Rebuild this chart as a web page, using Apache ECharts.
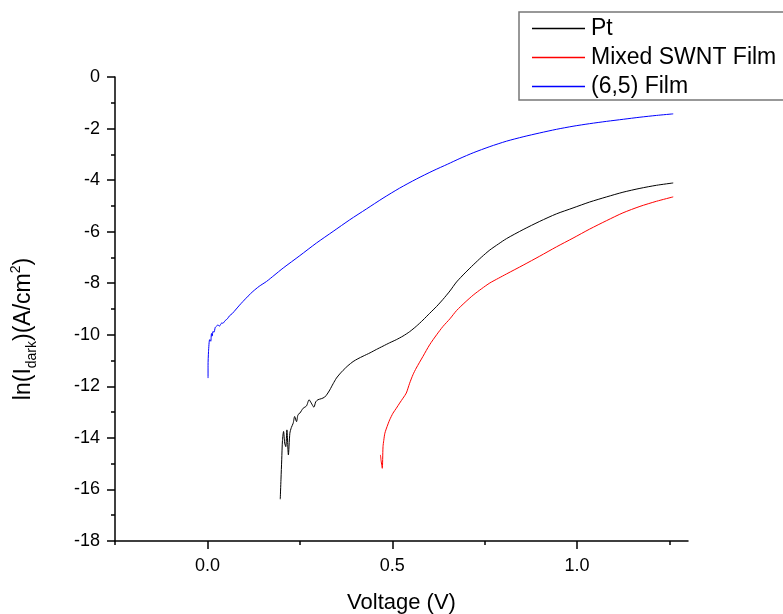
<!DOCTYPE html>
<html>
<head>
<meta charset="utf-8">
<script src="https://cdn.jsdelivr.net/npm/echarts@6/dist/echarts.min.js"></script>
<style>html,body{margin:0;padding:0;background:#fff}#c{width:783px;height:614px}</style>
</head>
<body>
<div id="c"></div>
<script>
var seriesNames = ['Pt', 'Mixed SWNT Film', '(6,5) Film'];
var xMajorLabels = [0, 0.5, 1.0];
var xMinorTicks = [-0.25, 0.25, 0.75, 1.25];

var ptV = [0.197,0.199,0.201,0.203,0.206,0.209,0.212,0.215,0.219,0.223,0.227,0.232,0.236,0.241,0.245,0.250,0.259,0.268,0.275,0.281,0.288,0.293,0.299,0.308,0.317,0.324,0.331,0.340,0.349,0.358,0.367,0.380,0.394,0.407,0.421,0.440,0.457,0.475,0.493,0.511,0.529,0.547,0.565,0.583,0.601,0.620,0.637,0.656,0.674,0.697,0.719,0.742,0.764,0.787,0.809,0.854,0.899,0.944,0.989,1.034,1.080,1.124,1.170,1.215,1.260];
var ptI = [-16.38,-15.6,-14.85,-14.1,-13.75,-14.2,-14.34,-13.69,-14.66,-13.82,-13.6,-13.43,-13.17,-13.37,-13.1,-13.04,-12.85,-12.76,-12.52,-12.65,-12.81,-12.6,-12.52,-12.48,-12.42,-12.3,-12.14,-11.9,-11.68,-11.52,-11.38,-11.2,-11.04,-10.93,-10.83,-10.70,-10.57,-10.44,-10.31,-10.19,-10.05,-9.88,-9.67,-9.43,-9.17,-8.9,-8.63,-8.30,-7.95,-7.6,-7.29,-6.98,-6.71,-6.48,-6.27,-5.92,-5.60,-5.31,-5.08,-4.85,-4.65,-4.47,-4.32,-4.20,-4.11];

var mixV = [0.468,0.470,0.473,0.475,0.477,0.480,0.486,0.493,0.502,0.511,0.520,0.529,0.538,0.547,0.556,0.565,0.583,0.601,0.620,0.637,0.656,0.674,0.697,0.719,0.742,0.764,0.787,0.809,0.854,0.899,0.944,0.989,1.034,1.080,1.124,1.170,1.215,1.260];
var mixI = [-14.66,-14.9,-15.18,-14.34,-14.1,-13.82,-13.56,-13.30,-13.04,-12.85,-12.65,-12.46,-12.26,-11.88,-11.55,-11.29,-10.84,-10.39,-10.0,-9.68,-9.38,-9.06,-8.74,-8.46,-8.21,-7.99,-7.81,-7.64,-7.30,-6.95,-6.59,-6.25,-5.90,-5.57,-5.27,-5.02,-4.82,-4.65];

var f65V = [0.0017,0.0017,0.003,0.006,0.009,0.011,0.013,0.015,0.018,0.021,0.024,0.028,0.033,0.038,0.042,0.048,0.054,0.060,0.067,0.078,0.087,0.096,0.110,0.123,0.140,0.160,0.180,0.205,0.250,0.295,0.340,0.385,0.430,0.475,0.520,0.565,0.610,0.650,0.683,0.719,0.764,0.809,0.854,0.899,0.944,0.989,1.034,1.080,1.125,1.170,1.215,1.260];
var f65I = [-11.68,-11.2,-10.65,-10.19,-10.25,-9.95,-10.05,-9.87,-9.9,-9.72,-9.68,-9.62,-9.66,-9.55,-9.55,-9.45,-9.38,-9.26,-9.18,-9.00,-8.85,-8.71,-8.50,-8.32,-8.12,-7.93,-7.70,-7.41,-6.93,-6.44,-5.99,-5.54,-5.12,-4.70,-4.31,-3.96,-3.64,-3.38,-3.16,-2.94,-2.70,-2.49,-2.32,-2.17,-2.03,-1.91,-1.81,-1.72,-1.64,-1.56,-1.49,-1.43];

function zip(a, b) { return a.map(function (v, i) { return [v, b[i]]; }); }

var FONT = '"Liberation Sans", Arial, sans-serif';
var chart = echarts.init(document.getElementById('c'), null, {renderer: 'canvas'});

function lineSeries(name, data, color) {
  return {
    name: name, type: 'line', data: data, xAxisIndex: 0, yAxisIndex: 0,
    symbol: 'none', showSymbol: false, smooth: 0.25, animation: false,
    lineStyle: {color: color, width: 1}, itemStyle: {color: color}
  };
}

chart.setOption({
  animation: false,
  backgroundColor: '#fff',
  textStyle: {fontFamily: FONT},
  grid: {left: 115, right: 95, top: 77, bottom: 73, containLabel: false, outerBoundsMode: 'none'},
  legend: {
    orient: 'vertical', left: 519, top: 12,
    padding: [5, 12, 2, 13],
    itemGap: 6, itemWidth: 53, itemHeight: 1.5, icon: 'rect',
    borderColor: '#777', borderWidth: 1.5, borderRadius: 0,
    textStyle: {fontFamily: FONT, fontSize: 23, color: '#000', lineHeight: 23, padding: [0, 0, 0, 1]},
    data: seriesNames
  },
  xAxis: [{
    type: 'value', min: -0.25, max: 1.3, position: 'bottom',
    axisLine: {show: true, onZero: false, lineStyle: {color: '#000', width: 1.5}},
    axisTick: {show: true, customValues: xMajorLabels, length: 8, lineStyle: {color: '#000', width: 1.5}},
    axisLabel: {customValues: xMajorLabels, margin: 16, fontSize: 18, color: '#000', fontFamily: FONT,
      formatter: function (v) { return v.toFixed(1); }},
    splitLine: {show: false},
    name: 'Voltage (V)', nameLocation: 'middle', nameGap: 51,
    nameTextStyle: {fontSize: 22, color: '#000', fontFamily: FONT}
  }, {
    type: 'value', min: -0.25, max: 1.3, position: 'bottom', gridIndex: 0,
    axisLine: {show: false, onZero: false},
    axisTick: {show: true, customValues: xMinorTicks, length: 4, lineStyle: {color: '#000', width: 1.5}},
    axisLabel: {show: false},
    splitLine: {show: false}
  }],
  yAxis: {
    type: 'value', min: -18, max: 0, interval: 2,
    axisLine: {show: true, onZero: false, lineStyle: {color: '#000', width: 1.5}},
    axisTick: {show: true, length: 8, lineStyle: {color: '#000', width: 1.5}},
    minorTick: {show: true, splitNumber: 2, length: 4, lineStyle: {color: '#000', width: 1.5}},
    axisLabel: {margin: 15, fontSize: 18, color: '#000', fontFamily: FONT},
    splitLine: {show: false},
    name: '{a|ln(I}{s|dark}{a|)(A/cm}{p|2}{a|)}',
    nameLocation: 'middle', nameGap: 76, nameRotate: 90,
    nameTextStyle: {
      color: '#000', fontFamily: FONT, padding: [0, 40, 0, 0],
      rich: {
        a: {fontSize: 23, fontFamily: FONT, color: '#000', lineHeight: 30},
        s: {fontSize: 14, fontFamily: FONT, color: '#000', lineHeight: 30, verticalAlign: 'bottom'},
        p: {fontSize: 14, fontFamily: FONT, color: '#000', lineHeight: 30, verticalAlign: 'top'}
      }
    }
  },
  series: [
    lineSeries(seriesNames[0], zip(ptV, ptI), '#000000'),
    lineSeries(seriesNames[1], zip(mixV, mixI), '#ff0000'),
    lineSeries(seriesNames[2], zip(f65V, f65I), '#0000ff')
  ]
});
</script>
</body>
</html>
